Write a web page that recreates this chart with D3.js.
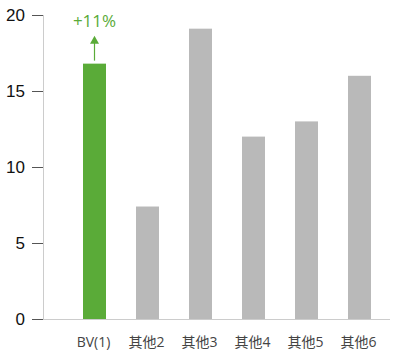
<!DOCTYPE html>
<html>
<head>
<meta charset="utf-8">
<script src="https://cdn.jsdelivr.net/npm/d3@7"></script>
<style>
  body { margin: 0; background: #fff; }
  svg { display: block; font-family: "Open Sans", "Noto Sans CJK SC", sans-serif; }
</style>
</head>
<body>
<div id="chart"></div>
<script>
// data
var categories = ["BV(1)", "其他2", "其他3", "其他4", "其他5", "其他6"];
var values = [16.8, 7.4, 19.1, 12, 13, 16];
var yTicks = [0, 5, 10, 15, 20];
var changeLabel = "+11%";

var width = 400, height = 360;
var x0 = 43, xEnd = 390; // axis span
var green = "#5aab38", grey = "#b9b9b9";

var svg = d3.select("#chart").append("svg")
  .attr("width", width)
  .attr("height", height);

var y = d3.scaleLinear().domain([0, 20]).range([319, 15]);

var x = d3.scaleBand()
  .domain(categories)
  .range([68, 386])
  .paddingInner(0.566)
  .paddingOuter(0.283);

// y axis
var yAxis = svg.append("g")
  .attr("transform", "translate(" + x0 + ",0)")
  .call(d3.axisLeft(y).tickValues(yTicks).tickSize(11).tickPadding(7));
yAxis.select(".domain").remove();
yAxis.selectAll(".tick line").attr("stroke", "#555");
yAxis.selectAll(".tick text")
  .attr("fill", "#111")
  .style("font-size", "17px");

// axis lines
svg.append("line")
  .attr("x1", x0 + 0.5).attr("x2", x0 + 0.5)
  .attr("y1", y(20)).attr("y2", y(0))
  .attr("stroke", "#ccc");
svg.append("line")
  .attr("x1", x0).attr("x2", xEnd)
  .attr("y1", y(0) + 0.5).attr("y2", y(0) + 0.5)
  .attr("stroke", "#ccc");

// bars
svg.selectAll("rect.bar")
  .data(values)
  .enter().append("rect")
  .attr("class", "bar")
  .attr("x", function(d, i) { return x(categories[i]); })
  .attr("y", function(d) { return y(d); })
  .attr("width", x.bandwidth())
  .attr("height", function(d) { return y(0) - y(d); })
  .attr("fill", function(d, i) { return i == 0 ? green : grey; });

// category labels
svg.selectAll("text.cat")
  .data(categories)
  .enter().append("text")
  .attr("class", "cat")
  .attr("x", function(d) { return x(d) + x.bandwidth() / 2 - 1; })
  .attr("y", 347)
  .attr("text-anchor", "middle")
  .attr("fill", "#444")
  .style("font-size", "14px")
  .text(function(d) { return d; });

// change annotation on first bar
var cx = x(categories[0]) + x.bandwidth() / 2;
var barTop = y(values[0]);
svg.append("line")
  .attr("x1", cx).attr("x2", cx)
  .attr("y1", barTop - 3).attr("y2", barTop - 22)
  .attr("stroke", green).attr("stroke-width", 1.2);
svg.append("path")
  .attr("d", "M" + (cx - 4.5) + "," + (barTop - 20) + "L" + cx + "," + (barTop - 28) + "L" + (cx + 4.5) + "," + (barTop - 20) + "Z")
  .attr("fill", green);
svg.append("text")
  .attr("x", cx)
  .attr("y", 27)
  .attr("text-anchor", "middle")
  .attr("fill", green)
  .style("font-size", "17px")
  .text(changeLabel);
</script>
</body>
</html>
